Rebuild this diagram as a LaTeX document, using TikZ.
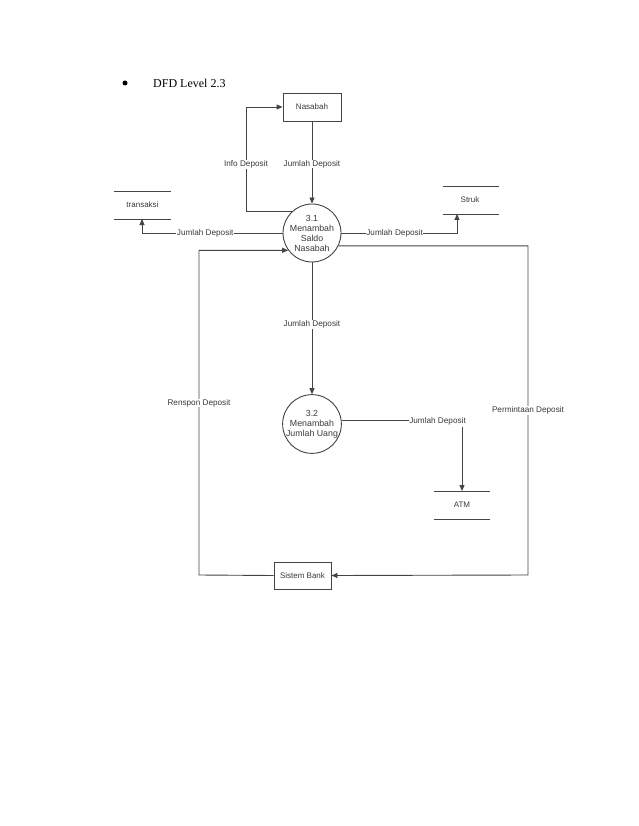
\documentclass[tikz,border=0pt]{standalone}
\usepackage{fontspec}
\setmainfont{Liberation Serif}
\setsansfont{Liberation Sans}
\usetikzlibrary{arrows.meta}
\definecolor{ln}{HTML}{444444}
\definecolor{tx}{HTML}{3A3A3A}
\tikzset{
  flow/.style={draw=ln, line width=0.9pt, -{Triangle[length=6pt,width=5pt]}},
  seg/.style={draw=ln, line width=0.9pt},
  ext/.style={draw=ln, line width=0.9pt, minimum width=58pt, minimum height=28pt, inner sep=0pt, font=\sffamily\fontsize{8}{9}\selectfont, text=tx},
  proc/.style={circle, draw=ln, line width=0.9pt, minimum size=58pt, inner sep=0pt, align=center, font=\sffamily\fontsize{8.8}{10}\selectfont, text=tx},
  storetext/.style={font=\sffamily\fontsize{8}{9}\selectfont, text=tx, inner sep=0pt},
  lbl/.style={fill=white, inner sep=0.5pt, font=\sffamily\fontsize{8.2}{9}\selectfont, text=tx}
}
\begin{document}
\begin{tikzpicture}[x=1pt,y=-1pt]
\useasboundingbox (0,0) rectangle (638,826);
\fill[white] (0,0) rectangle (638,826);
% title
\node[circle, fill=black, inner sep=0pt, minimum size=5pt] (bul) at (125,83) {};
\node[anchor=base west, inner sep=0pt, font=\fontsize{12}{14}\selectfont] (title) at (153,88) {DFD Level 2.3};
% nodes
\node[ext] (nas) at (312,107) {Nasabah};
\node[ext, minimum width=57pt, minimum height=27pt] (bank) at (302.5,575.5) {Sistem Bank};
\node[proc] (p31) at (312,233) {3.1\\Menambah\\Saldo\\Nasabah};
\node[proc] (p32) at (312,424) {3.2\\Menambah\\Jumlah Uang};
% stores
\coordinate (tr1) at (114,191); \coordinate (tr2) at (171,191);
\coordinate (tr3) at (114,219); \coordinate (tr4) at (171,219);
\draw[seg] (tr1) -- (tr2); \draw[seg] (tr3) -- (tr4);
\node[storetext] (trans) at (142.5,205) {transaksi};
\coordinate (st1) at (443,186); \coordinate (st2) at (499,186);
\coordinate (st3) at (443,214); \coordinate (st4) at (499,214);
\draw[seg] (st1) -- (st2); \draw[seg] (st3) -- (st4);
\node[storetext] (struk) at (470,200) {Struk};
\coordinate (at1) at (434,491); \coordinate (at2) at (490,491);
\coordinate (at3) at (434,519); \coordinate (at4) at (490,519);
\draw[seg] (at1) -- (at2); \draw[seg] (at3) -- (at4);
\node[storetext] (atm) at (462,505) {ATM};
% flows
\draw[flow] (nas.south) -- node[lbl, pos=0.52] {Jumlah Deposit} (p31.north);
\coordinate (c2) at (246,107);
\draw[flow] (p31.134) -- (p31.134 -| c2) -- node[lbl, pos=0.45] {Info Deposit} (c2) -- (nas.west);
\coordinate (tb) at (142,219);
\draw[flow] (p31.west) -- node[lbl, pos=0.55] {Jumlah Deposit} (p31.west -| tb) -- (tb);
\coordinate (sb) at (457,214);
\draw[flow] (p31.east) -- node[lbl, pos=0.46] {Jumlah Deposit} (p31.east -| sb) -- (sb);
\draw[flow] (p31.south) -- node[lbl, pos=0.47] {Jumlah Deposit} (p32.north);
\coordinate (c6) at (528,575);
\draw[flow] (p31.-26.6) -- (p31.-26.6 -| c6) -- node[lbl, pos=0.5] {Permintaan Deposit} (c6) -- (bank.east);
\coordinate (c7) at (199,575);
\draw[flow] (bank.west) -- (c7) -- node[lbl, pos=0.53] {Renspon Deposit} (c7 |- p31.216) -- (p31.216);
\node[lbl, anchor=east, inner sep=0pt] (ljd) at (466,421) {Jumlah Deposit};
\draw[seg] (p32.6) -- (p32.6 -| ljd.west);
\coordinate (ad) at (462,491);
\draw[flow] (ljd.south -| ad) ++(0,2) -- (ad);
\end{tikzpicture}
\end{document}
